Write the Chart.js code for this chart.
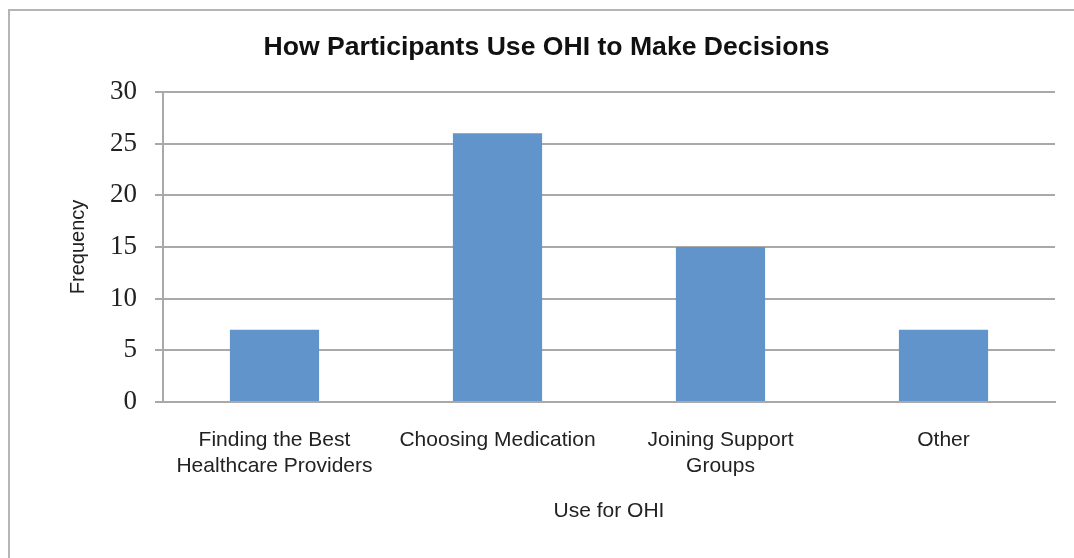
<!DOCTYPE html>
<html>
<head>
<meta charset="utf-8">
<title>How Participants Use OHI to Make Decisions</title>
<script src="https://cdn.jsdelivr.net/npm/chart.js@4/dist/chart.umd.min.js"></script>
<style>
  html, body { margin: 0; padding: 0; background: #ffffff; }
  #wrap { position: relative; width: 1074px; height: 558px; }
</style>
</head>
<body>
<div id="wrap"><canvas id="chart" width="1074" height="558"></canvas></div>
<script>
// Data
const categories = [
  ['Finding the Best', 'Healthcare Providers'],
  ['Choosing Medication'],
  ['Joining Support', 'Groups'],
  ['Other']
];
const frequency = [7, 26, 15, 7];
const yTicks = [0, 5, 10, 15, 20, 25, 30];

const gridGray = '#a9a9a9';
const barBlue = '#6194cb';

// Outer frame: only top and left edges are visible in the picture
const framePlugin = {
  id: 'frame',
  beforeDraw(chart) {
    const ctx = chart.ctx;
    ctx.save();
    ctx.strokeStyle = '#b5b5b5';
    ctx.lineWidth = 2;
    ctx.beginPath();
    ctx.moveTo(9, chart.height);
    ctx.lineTo(9, 10);
    ctx.lineTo(chart.width, 10);
    ctx.stroke();
    ctx.restore();
  }
};

new Chart(document.getElementById('chart'), {
  type: 'bar',
  data: {
    labels: categories,
    datasets: [{
      label: 'Frequency',
      data: frequency,
      backgroundColor: barBlue,
      borderWidth: 0,
      barPercentage: 0.4,
      categoryPercentage: 1
    }]
  },
  plugins: [framePlugin],
  options: {
    responsive: false,
    animation: false,
    layout: { padding: { left: 38, right: 19, top: 0, bottom: 0 } },
    plugins: {
      legend: { display: false },
      tooltip: { enabled: false },
      title: {
        display: true,
        text: 'How Participants Use OHI to Make Decisions',
        color: '#111111',
        font: { family: "'Liberation Sans', Arial, sans-serif", size: 26.6, weight: 'bold', lineHeight: 1.2 },
        padding: { top: 32, bottom: 28 }
      }
    },
    scales: {
      x: {
        afterFit(scale) { scale.height = 156; },
        grid: { display: false, drawTicks: false },
        border: { display: true, color: gridGray, width: 2 },
        ticks: {
          color: '#222222',
          padding: 25,
          maxRotation: 0,
          autoSkip: false,
          font: { family: "'Liberation Sans', Arial, sans-serif", size: 21, lineHeight: 1.24 }
        },
        title: {
          display: true,
          text: 'Use for OHI',
          color: '#222222',
          font: { family: "'Liberation Sans', Arial, sans-serif", size: 21, lineHeight: 1.2 },
          padding: { top: 0, bottom: 34 }
        }
      },
      y: {
        min: 0,
        max: 30,
        afterFit(scale) { scale.width = 125; },
        afterBuildTicks(scale) { scale.ticks = yTicks.map(v => ({ value: v })); },
        grid: { color: gridGray, lineWidth: 2, drawTicks: true, tickLength: 8 },
        border: { display: true, color: gridGray, width: 2 },
        ticks: {
          color: '#222222',
          padding: 18,
          font: { family: "'Liberation Serif', 'Times New Roman', serif", size: 27 }
        },
        title: {
          display: true,
          text: 'Frequency',
          color: '#222222',
          font: { family: "'Liberation Sans', Arial, sans-serif", size: 20, lineHeight: 1.2 },
          padding: { top: 28, bottom: 0 }
        }
      }
    }
  }
});
</script>
</body>
</html>
